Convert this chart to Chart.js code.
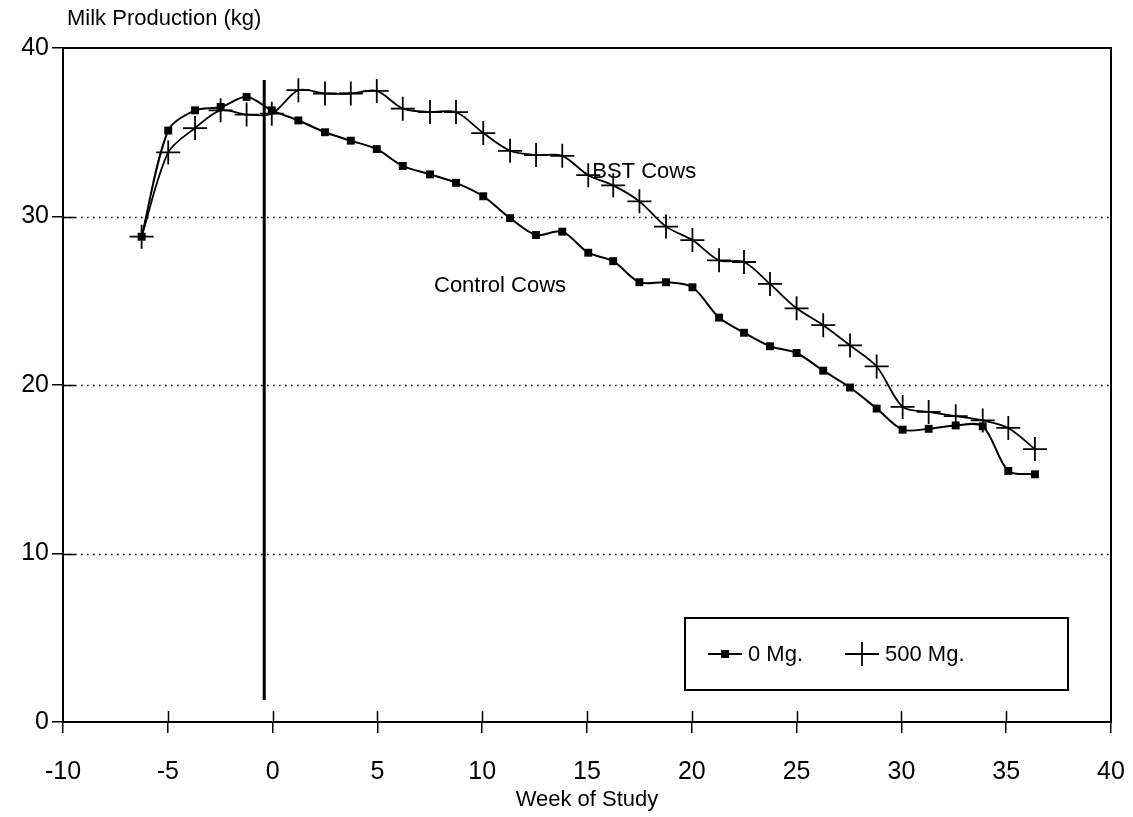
<!DOCTYPE html>
<html><head><meta charset="utf-8">
<script src="https://cdn.jsdelivr.net/npm/chart.js@4.4.1/dist/chart.umd.min.js"></script>
<style>html,body{margin:0;padding:0;background:#fff}canvas{display:block}</style>
</head><body>
<canvas id="c" width="1133" height="817"></canvas>
<script>
// ---- data ----
const weeks = [-6.25,-4.98,-3.70,-2.48,-1.24,-0.04,1.23,2.5,3.73,4.97,6.21,7.51,8.75,10.05,11.33,12.57,13.82,15.06,16.25,17.5,18.77,20.03,21.3,22.49,23.73,25.0,26.27,27.55,28.82,30.06,31.3,32.59,33.88,35.1,36.37];
const controlValues = [28.8,35.1,36.3,36.5,37.1,36.3,35.7,35.0,34.5,34.0,33.0,32.5,32.0,31.2,29.9,28.9,29.1,27.85,27.35,26.1,26.1,25.8,24.0,23.1,22.3,21.9,20.85,19.85,18.6,17.35,17.4,17.6,17.55,14.9,14.7];
const bstValues = [28.8,33.8,35.25,36.3,36.05,36.1,37.5,37.3,37.3,37.45,36.4,36.2,36.2,34.95,33.9,33.65,33.6,32.45,31.85,30.9,29.4,28.6,27.4,27.3,26.0,24.55,23.55,22.35,21.1,18.7,18.4,18.15,17.9,17.45,16.2];
const seriesNames = ['0 Mg.', '500 Mg.'];
const xTicks = [-10,-5,0,5,10,15,20,25,30,35,40];
const yTicks = [0,10,20,30,40];
const treatmentWeek = [-0.4, -0.4];
const treatmentSpan = [1.3, 38.1];
const labels = [
  {text:'BST Cows', x:15.25, y:32.3},
  {text:'Control Cows', x:7.7, y:25.5}
];
const yTitle = 'Milk Production (kg)';
const xTitle = 'Week of Study';

const FONT = "'Liberation Sans', Arial, Helvetica, sans-serif";
const toXY = (xs, ys) => xs.map((x,i)=>({x, y: ys[i]}));

function drawMarker(ctx, style, x, y){
  ctx.save();
  ctx.fillStyle='#000'; ctx.strokeStyle='#000';
  if(style==='rect'){ ctx.fillRect(x-4,y-4,8,8); }
  else { ctx.lineWidth=1.8; ctx.beginPath(); ctx.moveTo(x-12,y); ctx.lineTo(x+12,y); ctx.moveTo(x,y-12); ctx.lineTo(x,y+12); ctx.stroke(); }
  ctx.restore();
}

const decor = {
  id:'decor',
  beforeDatasetsDraw(chart){
    const {ctx, chartArea:a, scales:{x,y}} = chart;
    ctx.save();
    ctx.strokeStyle='#000';
    ctx.lineWidth=1.6; ctx.setLineDash([1.6,4.4]);
    yTicks.forEach(v=>{
      if(v>y.min && v<y.max){
        const py=Math.round(y.getPixelForValue(v))+0.5;
        ctx.beginPath(); ctx.moveTo(a.left,py); ctx.lineTo(a.right,py); ctx.stroke();
      }
    });
    ctx.setLineDash([]);
    ctx.lineWidth=2;
    ctx.strokeRect(a.left,a.top,a.right-a.left,a.bottom-a.top);
    ctx.lineWidth=1.5;
    xTicks.forEach(v=>{
      if(v>x.min && v<x.max){
        const px=Math.round(x.getPixelForValue(v))+0.5;
        ctx.beginPath(); ctx.moveTo(px,a.bottom); ctx.lineTo(px,a.bottom-11); ctx.stroke();
      }
    });
    yTicks.forEach(v=>{
      if(v>y.min && v<y.max){
        const py=Math.round(y.getPixelForValue(v))+0.5;
        ctx.beginPath(); ctx.moveTo(a.left,py); ctx.lineTo(a.left+12,py); ctx.stroke();
      }
    });
    ctx.restore();
  },
  afterDraw(chart){
    const {ctx, chartArea:a, scales:{x,y}} = chart;
    ctx.save();
    ctx.fillStyle='#000';
    ctx.textBaseline='middle';
    ctx.font='22px '+FONT;
    ctx.textAlign='left';
    ctx.fillText(yTitle, a.left+4, a.top-29);
    ctx.textAlign='center';
    ctx.fillText(xTitle, (a.left+a.right)/2, a.bottom+78);
    ctx.font='22px '+FONT; ctx.textAlign='left'; ctx.textBaseline='alphabetic';
    labels.forEach(l=>ctx.fillText(l.text, x.getPixelForValue(l.x), y.getPixelForValue(l.y)));
    const w=383, h=72;
    const bx=a.right-43-w, by=a.bottom-32-h;
    ctx.fillStyle='#fff'; ctx.fillRect(bx,by,w,h);
    ctx.strokeStyle='#000'; ctx.lineWidth=2; ctx.strokeRect(bx,by,w,h);
    const cy=by+h/2;
    const items=[{off:23, style:'rect', name:seriesNames[0]},{off:160, style:'cross', name:seriesNames[1]}];
    ctx.textBaseline='middle'; ctx.fillStyle='#000';
    items.forEach(it=>{
      ctx.lineWidth=2; ctx.beginPath(); ctx.moveTo(bx+it.off,cy); ctx.lineTo(bx+it.off+34,cy); ctx.stroke();
      drawMarker(ctx,it.style,bx+it.off+17,cy);
      ctx.fillText(it.name, bx+it.off+40, cy+1);
    });
    ctx.restore();
  }
};

new Chart(document.getElementById('c'), {
  type:'line',
  data:{
    datasets:[
      {label:seriesNames[0], data:toXY(weeks,controlValues), borderColor:'#000', backgroundColor:'#000', borderWidth:2,
       tension:0.3, pointStyle:'rect', pointRadius:5.6, pointBorderWidth:0, pointBackgroundColor:'#000'},
      {label:seriesNames[1], data:toXY(weeks,bstValues), borderColor:'#000', backgroundColor:'#000', borderWidth:1.8,
       tension:0.3, pointStyle:'cross', pointRadius:12, pointBorderWidth:1.8, pointBorderColor:'#000'},
      {label:'treatment', data:toXY(treatmentWeek,treatmentSpan), borderColor:'#000', borderWidth:3, pointRadius:0, tension:0}
    ]
  },
  options:{
    responsive:false, animation:false, devicePixelRatio:1,
    layout:{padding:{left:0, top:48, right:22, bottom:0}},
    plugins:{legend:{display:false}, tooltip:{enabled:false}},
    scales:{
      x:{type:'linear', min:-10, max:40,
         afterBuildTicks(s){ s.ticks = xTicks.map(v=>({value:v})); },
         afterFit(s){ s.height = 95; s.paddingLeft = 0; s.paddingRight = 0; },
         grid:{drawOnChartArea:false, drawTicks:true, tickLength:11, tickColor:'#000', lineWidth:1.5},
         border:{display:false},
         ticks:{color:'#000', font:{family:FONT, size:25}, padding:24, maxRotation:0, autoSkip:false}},
      y:{type:'linear', min:0, max:40,
         afterBuildTicks(s){ s.ticks = yTicks.map(v=>({value:v})); },
         afterFit(s){ s.width = 63; s.paddingTop = 0; s.paddingBottom = 0; },
         grid:{drawOnChartArea:false, drawTicks:true, tickLength:11, tickColor:'#000', lineWidth:1.5},
         border:{display:false},
         ticks:{color:'#000', font:{family:FONT, size:25}, padding:3}}
    }
  },
  plugins:[decor]
});
</script>
</body></html>
